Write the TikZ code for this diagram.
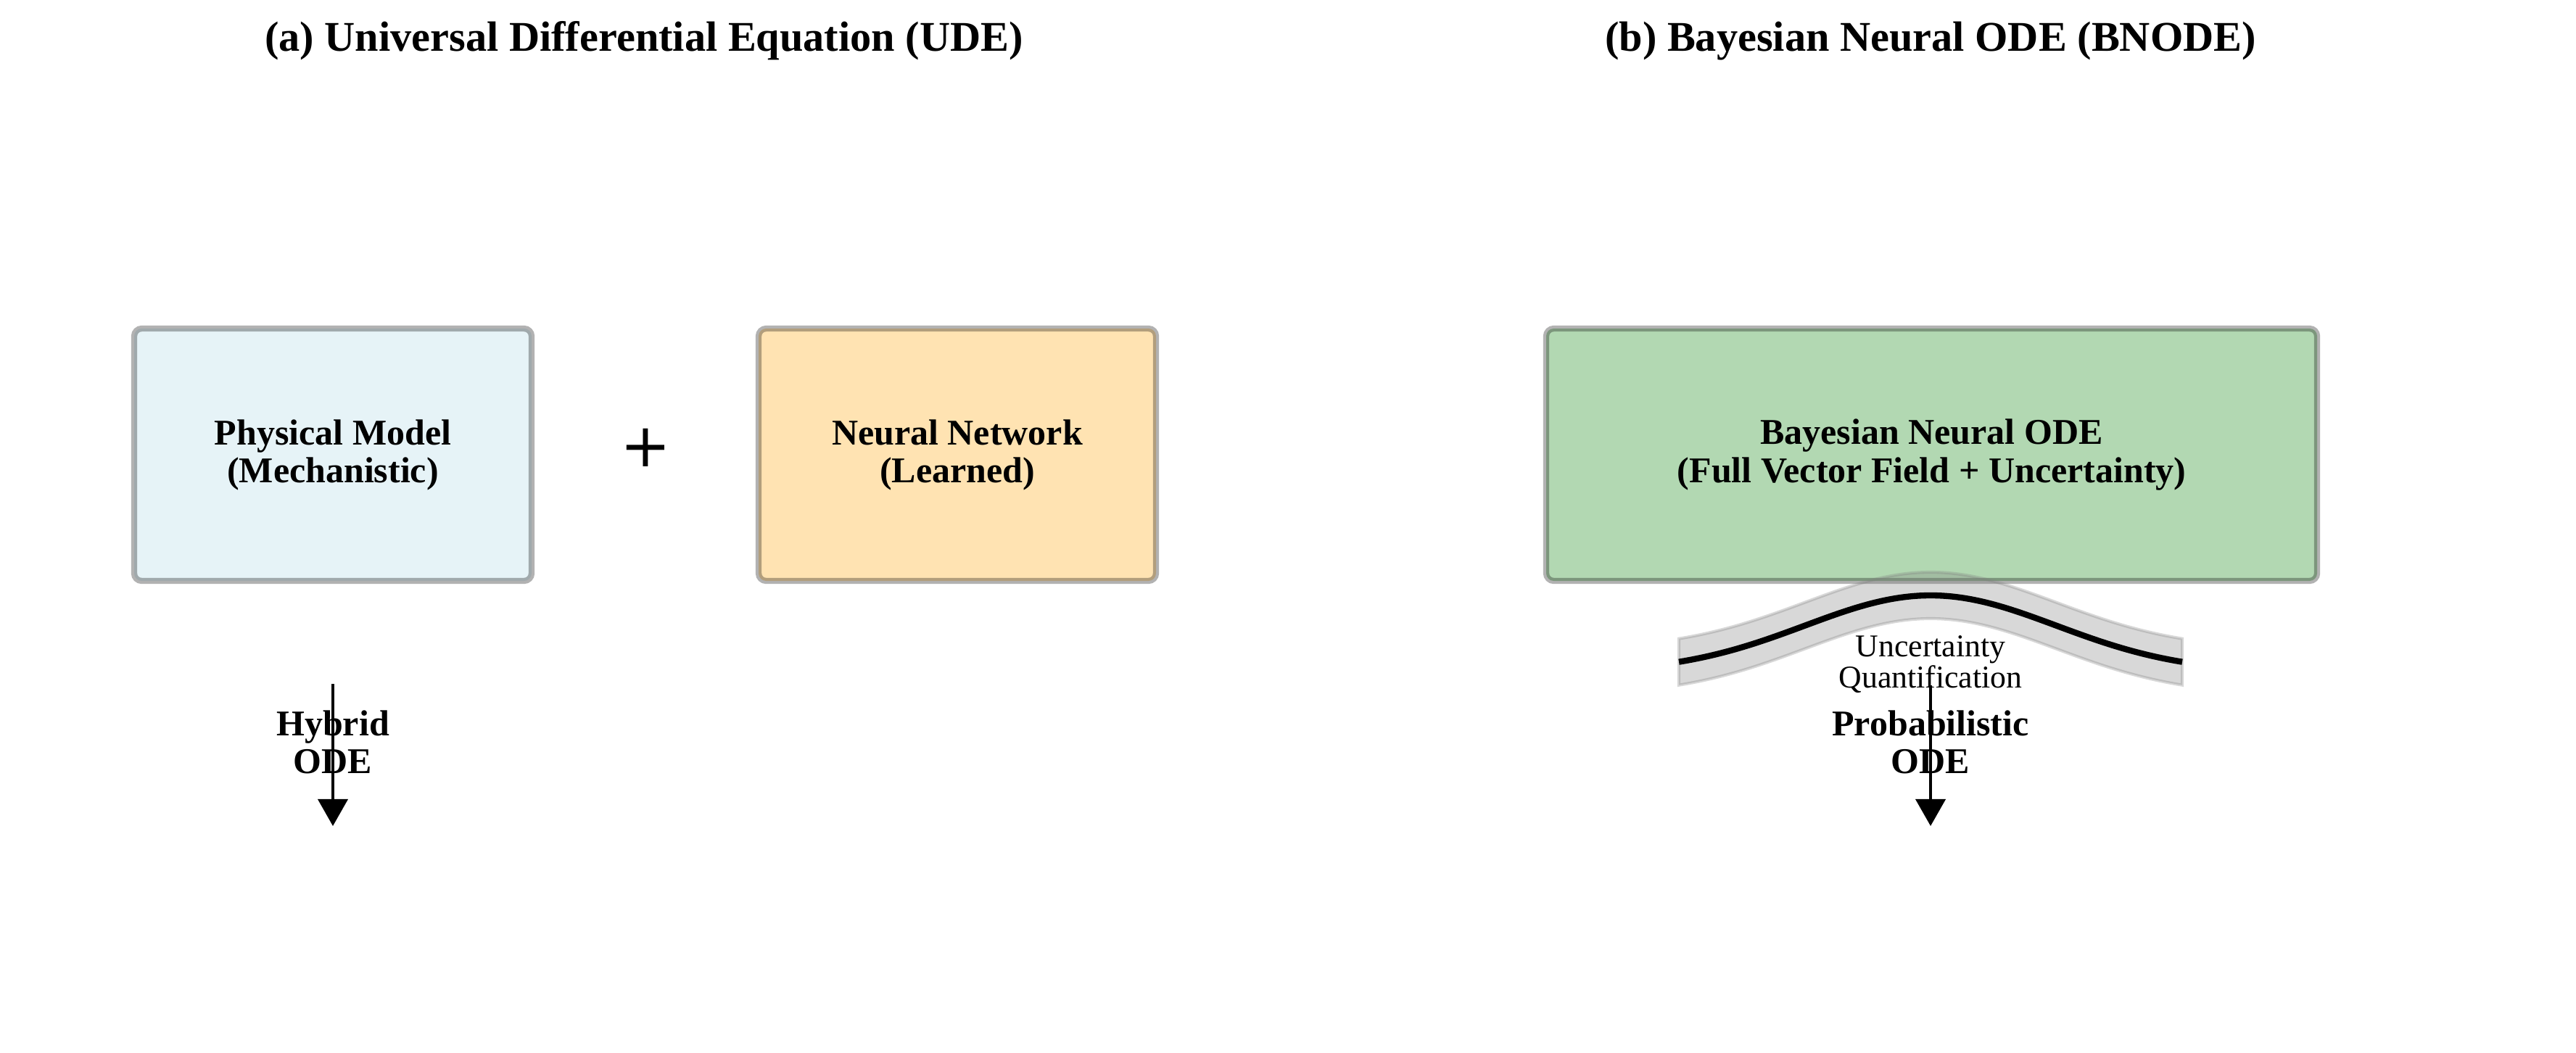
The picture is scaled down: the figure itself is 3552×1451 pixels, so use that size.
\documentclass[tikz,border=0pt]{standalone}
\usepackage{fontspec}
\setmainfont{Liberation Serif}
\newfontfamily\plusfont{DejaVu Sans}
\usetikzlibrary{arrows.meta}
\definecolor{cblue}{HTML}{ADD8E6}
\definecolor{corange}{HTML}{FFA500}
\definecolor{cgreen}{HTML}{008000}
\definecolor{cgray}{HTML}{808080}
\tikzset{
  titletext/.style={font=\fontsize{14}{16}\selectfont\bfseries, anchor=base, inner sep=0pt},
  boxnode/.style={rounded corners=2.5pt, line width=2pt, draw=black, draw opacity=0.3,
     fill opacity=0.3, text opacity=1, minimum height=83.52pt, inner sep=0pt,
     align=center, font=\fontsize{12}{12.5}\selectfont\bfseries},
  outtext/.style={align=center, inner sep=0pt, font=\fontsize{12}{12.5}\selectfont\bfseries},
  uqtext/.style={align=center, inner sep=0pt, font=\fontsize{10.5}{10.4}\selectfont},
  flowarrow/.style={line width=1.1pt, -{Triangle[length=8.9pt, width=9.8pt]}},
}
\begin{document}
\begin{tikzpicture}[x=0.24pt, y=-0.24pt]
\useasboundingbox (0,0) rectangle (3552,1451);
\fill[white] (0,0) rectangle (3552,1451);

% titles
\node[titletext] (ta) at (888,70) {(a) Universal Differential Equation (UDE)};
\node[titletext] (tb) at (2662,70) {(b) Bayesian Neural ODE (BNODE)};

% boxes
\node[boxnode, fill=cblue, minimum width=131.52pt] (phys) at (459,627)
  {Physical Model\\(Mechanistic)};
\node[boxnode, fill=corange, minimum width=131.52pt] (nn) at (1320,627)
  {Neural Network\\(Learned)};
\node[boxnode, fill=cgreen, minimum width=255.12pt] (bnode) at (2663.5,627)
  {Bayesian Neural ODE\\(Full Vector Field + Uncertainty)};

% plus sign
\node[inner sep=0pt, font=\plusfont\fontsize{20}{20}\selectfont] (plus) at (890,617) {+};

% uncertainty band
\fill[cgray, fill opacity=0.3, draw=cgray, draw opacity=0.3, line width=1pt]
  plot[domain=-347:347, samples=70, smooth] ({2662+\x}, {927-32-106*exp(-(\x/173.5)^2/2)})
  -- plot[domain=347:-347, samples=70, smooth] ({2662+\x}, {927+32-106*exp(-(\x/173.5)^2/2)})
  -- cycle;
\draw[line width=2pt, black]
  plot[domain=-347:347, samples=70, smooth] ({2662+\x}, {927-106*exp(-(\x/173.5)^2/2)});

% labels
\node[outtext] (hyb) at (459,1023) {Hybrid\\ODE};
\node[uqtext] (uq) at (2662,916) {Uncertainty\\Quantification};
\node[outtext] (prob) at (2662,1023) {Probabilistic\\ODE};

% arrows
\coordinate (a1s) at (459,943);
\coordinate (a1e) at (459,1139);
\coordinate (a2s) at (2662,945);
\coordinate (a2e) at (2662,1139);
\draw[flowarrow] (a1s) -- (a1e);
\draw[flowarrow] (a2s) -- (a2e);
\end{tikzpicture}
\end{document}
